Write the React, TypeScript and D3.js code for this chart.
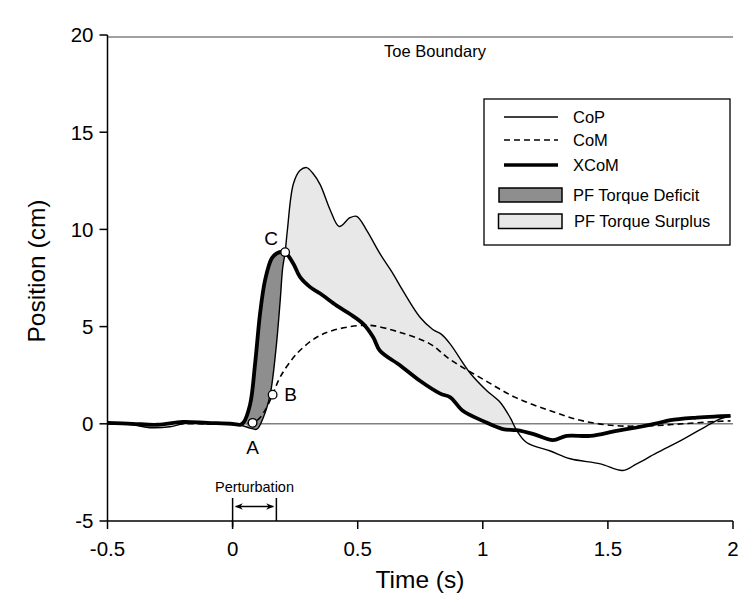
import React from "react";
import * as d3 from "d3";

// ---------- data ----------
const xTicks = [-0.5, 0, 0.5, 1, 1.5, 2];
const yTicks = [-5, 0, 5, 10, 15, 20];
const toeBoundary = 19.9;

const copT = [-0.5, -0.4, -0.33, -0.25, -0.18, -0.1, 0.0, 0.04, 0.07, 0.097, 0.122, 0.15, 0.173, 0.19, 0.2, 0.21, 0.219, 0.243, 0.27, 0.296, 0.32, 0.35, 0.39, 0.426, 0.469, 0.496, 0.536, 0.589, 0.642, 0.68, 0.749, 0.8, 0.835, 0.87, 0.95, 1.016, 1.07, 1.11, 1.135, 1.175, 1.27, 1.35, 1.47, 1.56, 1.615, 1.695, 1.8, 1.91, 1.95, 1.99];
const copV = [0.0, -0.05, -0.2, -0.15, 0.05, 0.0, -0.05, -0.1, -0.22, -0.28, 0.3, 1.5, 3.8, 6.3, 8.0, 8.83, 9.97, 12.35, 13.04, 13.18, 12.9, 12.3, 11.0, 10.15, 10.6, 10.67, 9.95, 8.75, 7.7, 6.86, 5.48, 4.85, 4.6, 4.1, 2.6, 1.7, 1.1, 0.3, -0.33, -0.96, -1.4, -1.8, -2.06, -2.4, -2.06, -1.5, -0.8, 0.0, 0.26, 0.4];

const comT = [-0.5, -0.2, 0.0, 0.06, 0.1, 0.13, 0.16, 0.19, 0.256, 0.336, 0.4, 0.5, 0.56, 0.67, 0.79, 0.87, 1.0, 1.13, 1.27, 1.4, 1.535, 1.67, 1.8, 1.93, 1.99];
const comV = [0.0, 0.0, 0.0, 0.02, 0.2, 0.7, 1.5, 2.4, 3.6, 4.45, 4.8, 5.05, 5.05, 4.7, 4.1, 3.3, 2.3, 1.36, 0.67, 0.15, -0.1, -0.1, 0.0, 0.12, 0.15];

const xcomT = [-0.5, -0.4, -0.3, -0.2, -0.1, 0.0, 0.03, 0.043, 0.07, 0.09, 0.11, 0.13, 0.156, 0.175, 0.195, 0.21, 0.243, 0.27, 0.31, 0.35, 0.416, 0.469, 0.522, 0.562, 0.589, 0.67, 0.75, 0.83, 0.87, 0.92, 1.0, 1.08, 1.135, 1.2, 1.28, 1.335, 1.43, 1.535, 1.615, 1.695, 1.75, 1.855, 1.935, 1.99];
const xcomV = [0.05, 0.0, -0.05, 0.1, 0.05, 0.0, -0.05, 0.05, 1.0, 3.1, 5.7, 7.4, 8.5, 8.75, 8.85, 8.83, 8.23, 7.54, 7.03, 6.7, 6.08, 5.65, 5.14, 4.45, 3.76, 3.0, 2.2, 1.55, 1.36, 0.67, 0.15, -0.27, -0.33, -0.52, -0.84, -0.62, -0.62, -0.36, -0.19, 0.02, 0.19, 0.32, 0.38, 0.41];

const markerNames = ["A", "B", "C"];
const markerT = [0.08, 0.16, 0.21];
const markerV = [0.05, 1.5, 8.83];

const perturbStart = 0;
const perturbEnd = 0.175;

const legendNames = ["CoP", "CoM", "XCoM", "PF Torque Deficit", "PF Torque Surplus"];

// ---------- helpers ----------
type P = [number, number];
const zip = (ts: number[], vs: number[]): P[] => ts.map((t, i) => [t, vs[i]]);
const interp = (ts: number[], vs: number[], t: number) => {
  for (let i = 0; i < ts.length - 1; i++) {
    if (t >= ts[i] && t <= ts[i + 1]) {
      const f = (t - ts[i]) / (ts[i + 1] - ts[i]);
      return vs[i] + f * (vs[i + 1] - vs[i]);
    }
  }
  return vs[vs.length - 1];
};
const seg = (ts: number[], vs: number[], t0: number, t1: number): P[] => {
  const pts: P[] = [];
  pts.push([t0, interp(ts, vs, t0)]);
  ts.forEach((t, i) => {
    if (t > t0 + 1e-6 && t < t1 - 1e-6) pts.push([t, vs[i]]);
  });
  pts.push([t1, interp(ts, vs, t1)]);
  return pts;
};

export default function App() {
  const W = 750, H = 615;
  const x = d3.scaleLinear().domain([-0.5, 2]).range([107.5, 733]);
  const y = d3.scaleLinear().domain([-5, 20]).range([521, 35]);
  const line = d3.line<P>().x(d => x(d[0])).y(d => y(d[1])).curve(d3.curveCatmullRom.alpha(0.5));

  const cop = zip(copT, copV);
  const com = zip(comT, comV);
  const xcom = zip(xcomT, xcomV);

  const region = (top: P[], bottom: P[]) => {
    const a = line(top) as string;
    const b = (line(bottom.slice().reverse()) as string).slice(1);
    return a + "L" + b + "Z";
  };
  const deficitPath = region(seg(xcomT, xcomV, 0.043, 0.21), seg(copT, copV, 0.07, 0.21));
  const surplusPath = region(seg(copT, copV, 0.21, 1.135), seg(xcomT, xcomV, 0.21, 1.135));

  const font = "'Liberation Sans', Arial, Helvetica, sans-serif";
  const x0 = x(-0.5), x1 = x(2), yb = y(-5);

  const lgX = 484, lgY = 99, lgW = 246, lgH = 146;
  const lgLineX0 = 504, lgLineX1 = 558, lgTextX = 573;
  const rowY = [117, 140, 165, 195, 221];

  const pA = x(perturbStart), pB = x(perturbEnd);
  const arrowY = 506.5;

  const labelOffsets: [number, number][] = [[0, 24], [18, 0], [-14, -14]];

  return (
    <svg width={W} height={H} style={{ position: "absolute", left: 0, top: 0, background: "#fff" }} fontFamily={font}>
      <defs>
        <marker id="ah" viewBox="0 0 10 10" refX="9" refY="5" markerWidth="8" markerHeight="8" orient="auto-start-reverse" markerUnits="userSpaceOnUse">
          <path d="M0,1 L10,5 L0,9 L3,5 Z" fill="#000" />
        </marker>
      </defs>

      {/* fills */}
      <path d={surplusPath} fill="#e8e8e8" stroke="none" />
      <path d={deficitPath} fill="#8e8e8e" stroke="none" />

      {/* reference lines */}
      <line x1={x0} x2={x1} y1={y(0)} y2={y(0)} stroke="#808080" strokeWidth={1.6} />
      <line x1={x0} x2={x1} y1={y(toeBoundary)} y2={y(toeBoundary)} stroke="#808080" strokeWidth={1.6} />
      <text x={435} y={57} fontSize={16.5} textAnchor="middle">Toe Boundary</text>

      {/* series */}
      <path d={line(com) as string} fill="none" stroke="#000" strokeWidth={1.6} strokeDasharray="6,4" />
      <path d={line(xcom) as string} fill="none" stroke="#000" strokeWidth={3.8} strokeLinejoin="round" />
      <path d={line(cop) as string} fill="none" stroke="#000" strokeWidth={1.4} />

      {/* markers */}
      {markerNames.map((n, i) => (
        <g key={n}>
          <circle cx={x(markerT[i])} cy={y(markerV[i])} r={4.3} fill="#fff" stroke="#000" strokeWidth={1.3} />
          <text x={x(markerT[i]) + labelOffsets[i][0]} y={y(markerV[i]) + labelOffsets[i][1]} fontSize={19} textAnchor="middle" dy="0.36em">{n}</text>
        </g>
      ))}

      {/* axes */}
      <line x1={x0} x2={x0} y1={yb} y2={y(20)} stroke="#000" strokeWidth={1.5} />
      <line x1={x0} x2={x1} y1={yb} y2={yb} stroke="#000" strokeWidth={1.5} />
      {yTicks.map(t => (
        <g key={"y" + t}>
          <line x1={x0 - 8} x2={x0} y1={y(t)} y2={y(t)} stroke="#000" strokeWidth={1.5} />
          <text x={x0 - 14} y={y(t)} dy="0.36em" fontSize={20.5} textAnchor="end">{t}</text>
        </g>
      ))}
      {xTicks.map(t => (
        <g key={"x" + t}>
          <line x1={x(t)} x2={x(t)} y1={yb} y2={yb + 8} stroke="#000" strokeWidth={1.5} />
          <text x={x(t)} y={yb + 28} dy="0.36em" fontSize={20.5} textAnchor="middle">{t}</text>
        </g>
      ))}
      <text x={420} y={588} fontSize={24.5} textAnchor="middle">Time (s)</text>
      <text transform={`translate(45,271) rotate(-90)`} fontSize={24.5} textAnchor="middle">Position (cm)</text>

      {/* perturbation */}
      <line x1={pA} x2={pA} y1={498} y2={yb + 6} stroke="#000" strokeWidth={1.5} />
      <line x1={pB} x2={pB} y1={498} y2={yb} stroke="#000" strokeWidth={1.5} />
      <line x1={pA + 3} x2={pB - 3} y1={arrowY} y2={arrowY} stroke="#000" strokeWidth={1.5} markerStart="url(#ah)" markerEnd="url(#ah)" />
      <text x={(pA + pB) / 2} y={492} fontSize={14.5} textAnchor="middle">Perturbation</text>

      {/* legend */}
      <rect x={lgX} y={lgY} width={lgW} height={lgH} fill="#fff" stroke="#000" strokeWidth={1.3} />
      <line x1={lgLineX0} x2={lgLineX1} y1={rowY[0]} y2={rowY[0]} stroke="#000" strokeWidth={1.3} />
      <line x1={lgLineX0} x2={lgLineX1} y1={rowY[1]} y2={rowY[1]} stroke="#000" strokeWidth={1.6} strokeDasharray="6,4" />
      <line x1={lgLineX0} x2={lgLineX1} y1={rowY[2]} y2={rowY[2]} stroke="#000" strokeWidth={3.6} />
      <rect x={499} y={188} width={63} height={14} fill="#8e8e8e" stroke="#000" strokeWidth={1.5} />
      <rect x={498.5} y={214} width={63.5} height={14.5} fill="#e8e8e8" stroke="#000" strokeWidth={1.5} />
      {legendNames.map((n, i) => (
        <text key={n} x={i === 4 ? lgTextX + 1 : lgTextX} y={rowY[i]} dy="0.36em" fontSize={16.5}>{n}</text>
      ))}
    </svg>
  );
}
